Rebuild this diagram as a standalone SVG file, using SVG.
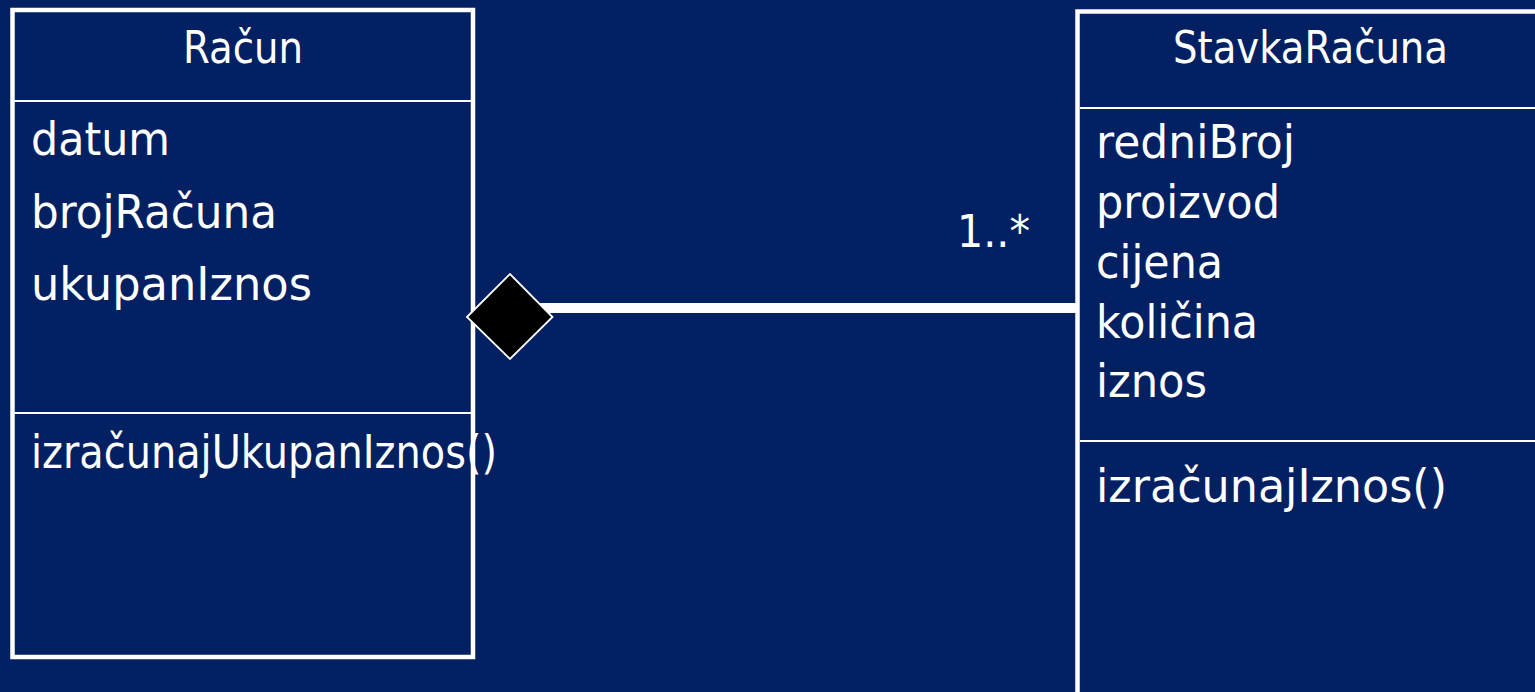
<svg xmlns="http://www.w3.org/2000/svg" width="1535" height="692" viewBox="0 0 1535 692">
<style>
.bg{fill:#022062}
.box{fill:none;stroke:#ffffff;stroke-width:4.5}
.sep{stroke:#ffffff;stroke-width:2.2}
.t{font-family:"DejaVu Sans","Liberation Sans",sans-serif;fill:#ffffff}
.h{font-size:44px}
.a{font-size:46px}
.edge{stroke:#ffffff;stroke-width:10}
.dia{fill:#000000;stroke:#ffffff;stroke-width:1.8}
</style>
<rect class="bg" x="0" y="0" width="1535" height="692"/>
<g id="racun">
<rect class="box" x="12.5" y="10" width="460.5" height="647"/>
<line class="sep" x1="14" y1="101" x2="471" y2="101"/>
<line class="sep" x1="14" y1="413" x2="471" y2="413"/>
<text class="t h" x="243" y="63" text-anchor="middle" textLength="120" lengthAdjust="spacingAndGlyphs">Račun</text>
<text class="t a" x="31" y="155" textLength="139" lengthAdjust="spacingAndGlyphs">datum</text>
<text class="t a" x="31" y="228" textLength="246" lengthAdjust="spacingAndGlyphs">brojRačuna</text>
<text class="t a" x="31" y="300" textLength="281" lengthAdjust="spacingAndGlyphs">ukupanIznos</text>
<text class="t a" x="31" y="468" textLength="466" lengthAdjust="spacingAndGlyphs">izračunajUkupanIznos()</text>
</g>
<g id="stavkaRacuna">
<rect class="box" x="1077.5" y="11.5" width="480" height="700"/>
<line class="sep" x1="1080" y1="108" x2="1535" y2="108"/>
<line class="sep" x1="1080" y1="441" x2="1535" y2="441"/>
<text class="t h" x="1310.5" y="63" text-anchor="middle" textLength="275" lengthAdjust="spacingAndGlyphs">StavkaRačuna</text>
<text class="t a" x="1096" y="158" textLength="199" lengthAdjust="spacingAndGlyphs">redniBroj</text>
<text class="t a" x="1096" y="218" textLength="184" lengthAdjust="spacingAndGlyphs">proizvod</text>
<text class="t a" x="1096" y="278" textLength="127" lengthAdjust="spacingAndGlyphs">cijena</text>
<text class="t a" x="1096" y="338" textLength="162" lengthAdjust="spacingAndGlyphs">količina</text>
<text class="t a" x="1096" y="397" textLength="111" lengthAdjust="spacingAndGlyphs">iznos</text>
<text class="t a" x="1096" y="502" textLength="351" lengthAdjust="spacingAndGlyphs">izračunajIznos()</text>
</g>
<g id="connectors">
<line class="edge" x1="510" y1="308" x2="1076" y2="308"/>
<polygon class="dia" points="467,317 510,274 552.5,317 510,359"/>
<text class="t h" x="957" y="247" textLength="73" lengthAdjust="spacingAndGlyphs">1..*</text>
</g>
</svg>
